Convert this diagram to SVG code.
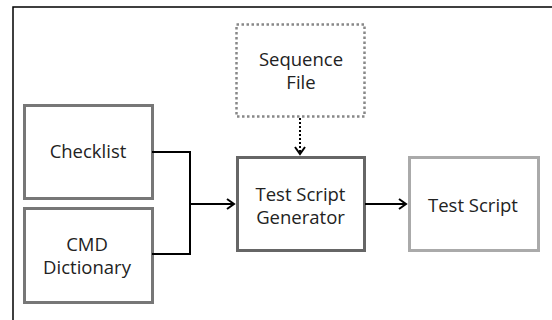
<svg xmlns="http://www.w3.org/2000/svg" width="552" height="320" viewBox="0 0 552 320">
<style>
text{font-family:"Open Sans","Noto Sans",sans-serif;font-size:18.5px;fill:#222;text-anchor:middle}
.box{fill:#fff;stroke-width:3}
.conn{fill:none;stroke:#000;stroke-width:2}
</style>
<defs>
<marker id="arr" markerWidth="12" markerHeight="12" refX="9" refY="6" orient="auto" markerUnits="userSpaceOnUse">
<path d="M2,1 L9,6 L2,11" fill="none" stroke="#000" stroke-width="2"/>
</marker>
</defs>
<rect x="0" y="0" width="552" height="320" fill="#fff"/>
<path d="M13,320 V7 H552" fill="none" stroke="#000" stroke-width="1.5"/>
<g id="checklist">
<rect class="box" x="24.5" y="105.5" width="128" height="93" stroke="#777"/>
<text x="88" y="158">Checklist</text>
</g>
<g id="cmd">
<rect class="box" x="24.5" y="208.5" width="128" height="94" stroke="#777"/>
<text x="87" y="250.5">CMD</text>
<text x="87" y="273.5">Dictionary</text>
</g>
<g id="sequence">
<rect x="236.5" y="24.5" width="128" height="92" fill="#fff" stroke="#888" stroke-width="2.5" stroke-dasharray="2.5 2.5"/>
<text x="301" y="65.5">Sequence</text>
<text x="301" y="88.5">File</text>
</g>
<g id="generator">
<rect class="box" x="237.5" y="157.5" width="127" height="93" stroke="#666"/>
<text x="300.5" y="200.5">Test Script</text>
<text x="300.5" y="223.5">Generator</text>
</g>
<g id="testscript">
<rect class="box" x="409.5" y="157.5" width="129" height="93" stroke="#aaa"/>
<text x="473" y="211.5">Test Script</text>
</g>
<g id="connectors">
<path class="conn" d="M152,152 H190 V254 H152"/>
<path class="conn" d="M190,204 H234" marker-end="url(#arr)"/>
<path class="conn" d="M365,204 H406" marker-end="url(#arr)"/>
<path class="conn" d="M300,118 V154" stroke-dasharray="2 2" marker-end="url(#arr)"/>
</g>
</svg>
